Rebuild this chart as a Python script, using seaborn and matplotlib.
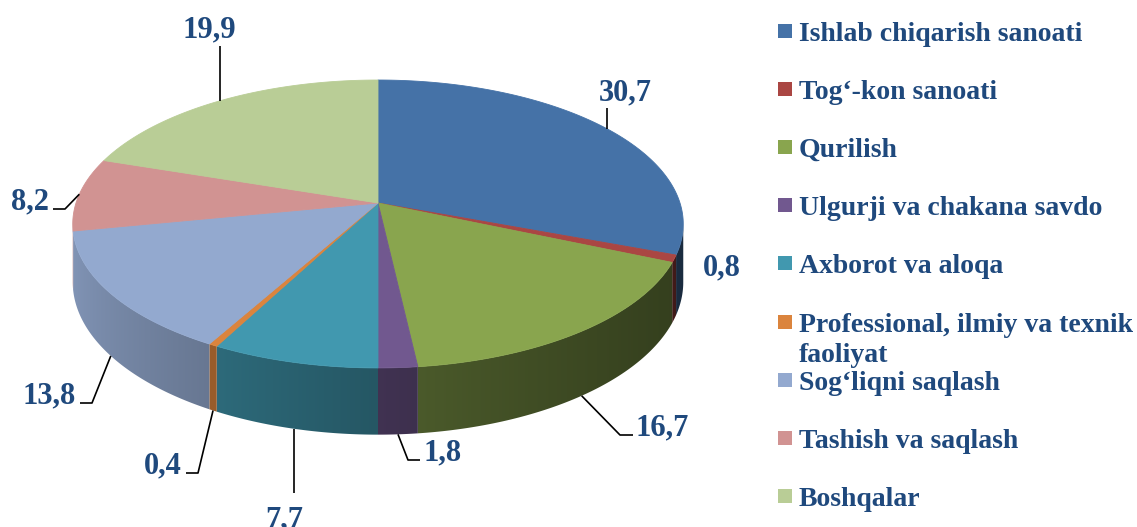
import numpy as np
import matplotlib
matplotlib.use("Agg")
import matplotlib.pyplot as plt
from matplotlib.patches import Polygon, Rectangle
import seaborn as sns

# data
categories = ["Ishlab chiqarish sanoati", "Tog\u2018-kon sanoati", "Qurilish",
              "Ulgurji va chakana savdo", "Axborot va aloqa",
              "Professional, ilmiy va texnik\nfaoliyat", "Sog\u2018liqni saqlash",
              "Tashish va saqlash", "Boshqalar"]
shares = [30.7, 0.8, 16.7, 1.8, 7.7, 0.4, 13.8, 8.2, 19.9]
colors = ["#4572A7", "#AA4643", "#89A54E", "#71588F", "#4198AF",
          "#DB843D", "#93A9CF", "#D19392", "#B9CD96"]

sns.set_theme(style="white")
plt.rcParams['font.family'] = ['Liberation Serif', 'DejaVu Serif']
text_col = "#1F497D"

# pie geometry (pixels), simple perspective of a tilted disc
cx, cy = 378, 203
A, B, k, T = 302, 140.9, 0.1457, 57


def proj(theta, drop=0.0):
    t = np.radians(theta)
    X, Z = np.cos(t), np.sin(t)
    w = 1 + k * Z
    return cx + A * X / w, cy - B * Z / w + drop * T / w


fig = plt.figure(figsize=(11.37, 5.27), dpi=100)
ax = fig.add_axes([0, 0, 1, 1])

vals = np.array(shares)
ang = np.concatenate([[0], np.cumsum(vals / vals.sum() * 360)])
starts = 90 - ang[:-1]
ends = 90 - ang[1:]

# side wall (front part only), shaded darker to the right
sil = np.degrees(np.arcsin(k))
th_hi, th_lo = -sil, -180 + sil
xgrid = np.linspace(0, 1137, 1138)
shade = 0.88 - 0.5 * np.clip((xgrid - 73) / 610, 0, 1) ** 0.7
for s, e, c in zip(starts, ends, colors):
    a0, a1 = min(s, th_hi), max(e, th_lo)
    if a0 <= a1:
        continue
    th = np.linspace(a0, a1, max(int((a0 - a1) * 4), 4))
    xt, yt = proj(th)
    xb, yb = proj(th, 1)
    pts = np.column_stack([np.concatenate([xt, xb[::-1]]),
                           np.concatenate([yt, yb[::-1]])])
    poly = Polygon(pts, closed=True, facecolor='none', edgecolor='none')
    ax.add_patch(poly)
    img = np.array(matplotlib.colors.to_rgb(c))[None, None, :] * shade[None, :, None]
    im = ax.imshow(np.repeat(img, 2, axis=0), extent=(0, 1137, 527, 0),
                   aspect='auto', interpolation='bilinear')
    im.set_clip_path(poly)

# top faces
for s, e, c in zip(starts, ends, colors):
    n = max(int(abs(s - e) * 3), 4)
    th = np.linspace(s, e, n)
    xs, ys = proj(th)
    pts = np.column_stack([np.concatenate([[cx], xs]), np.concatenate([[cy], ys])])
    ax.add_patch(Polygon(pts, closed=True, facecolor=c, edgecolor=c, lw=0.6))

# value labels with leader lines
mids = (starts + ends) / 2
label_layout = [
    # text x, text baseline y, ha, leader path after anchor (None = no leader)
    (625, 100, 'center', [(None, 108)]),
    (703, 275, 'left', None),
    (636, 435, 'left', [(620, 435), (633, 435)]),
    (424, 460, 'left', [(408, 460), (420, 460)]),
    (284, 527, 'center', [(None, 493)]),
    (182, 473, 'right', [(198, 473), (186, 473)]),
    (76, 403, 'right', [(92, 403), (80, 403)]),
    (49, 209, 'right', [(65, 209), (53, 209)]),
    (209, 37, 'center', [(None, 46)]),
]
for v, m, (tx, ty, ha, path) in zip(shares, mids, label_layout):
    if path is not None:
        front = th_lo < m < th_hi
        x0, y0 = proj(m, 1 if front else 0)
        xs, ys = [x0], [y0]
        for px, py in path:
            xs.append(x0 if px is None else px)
            ys.append(py)
        ax.plot(xs, ys, color='black', lw=1.2, solid_capstyle='butt')
    ax.text(tx, ty, f"{v:.1f}".replace('.', ','), ha=ha, va='baseline',
            fontsize=22, fontweight='bold', color=text_col)

# legend
for i, (name, c) in enumerate(zip(categories, colors)):
    yc = 31 + 58.1 * i
    ax.add_patch(Rectangle((778, yc - 7), 14, 14, facecolor=c, edgecolor='none'))
    for j, line in enumerate(name.split('\n')):
        ax.text(799, yc + 10 + 31 * j, line, ha='left', va='baseline',
                fontsize=20, fontweight='bold', color=text_col)

ax.set_xlim(0, 1137)
ax.set_ylim(527, 0)
ax.axis('off')

fig.savefig("out.png", dpi=100)
